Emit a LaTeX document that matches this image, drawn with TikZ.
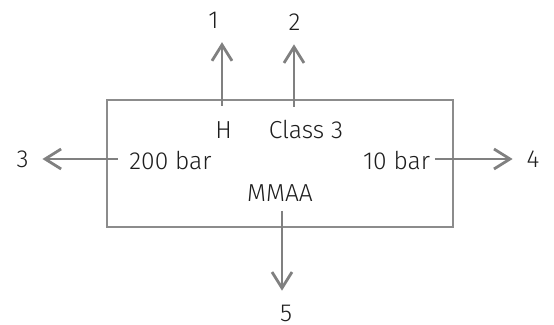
\documentclass[tikz,border=0pt]{standalone}
\usepackage{fontspec}
\setmainfont{Fira Sans Light}
\usetikzlibrary{arrows.meta}

\definecolor{flowgray}{HTML}{808080}
\definecolor{boxgray}{HTML}{8C8C8C}
\definecolor{textdark}{HTML}{1E1E1E}

\begin{document}
\begin{tikzpicture}[x=0.5pt,y=-0.5pt,
  flow/.style={draw=flowgray, line width=1.4pt, -{Straight Barb[length=8pt,width=10pt]}},
  tag/.style={text=textdark, font=\fontsize{12.3}{14}\selectfont, inner sep=0pt},
  port/.style={tag, outer sep=7pt}]
\useasboundingbox (0,0) rectangle (554,325);

% the unit
\node[draw=boxgray, line width=1pt, minimum width=173pt, minimum height=63.5pt, inner sep=0pt] (unit) at (280,163.5) {};
\node[tag] (h) at (223.5,130) {H};
\node[tag] (cls) at (306,130) {Class 3};
\node[tag] (bar200) at (170.5,161) {200 bar};
\node[tag] (bar10) at (396.5,161) {10 bar};
\node[tag] (mmaa) at (280,193.5) {MMAA};

% streams
\node[port] (n1) at (213.5,20) {1};
\node[port] (n2) at (294.5,22) {2};
\node[port] (n3) at (22.5,159) {3};
\node[port] (n4) at (533,159) {4};
\node[port] (n5) at (286,313) {5};

\coordinate (s1) at (222,106);
\coordinate (s2) at (294,107);
\coordinate (s3) at (118,159);
\coordinate (s4) at (435,159);
\coordinate (s5) at (282,211);

\draw[flow] (s1) -- (s1 |- n1.south);
\draw[flow] (s2) -- (s2 |- n2.south);
\draw[flow] (s3) -- (s3 -| n3.east);
\draw[flow] (s4) -- (s4 -| n4.west);
\draw[flow] (s5) -- (s5 |- n5.north);
\end{tikzpicture}
\end{document}
